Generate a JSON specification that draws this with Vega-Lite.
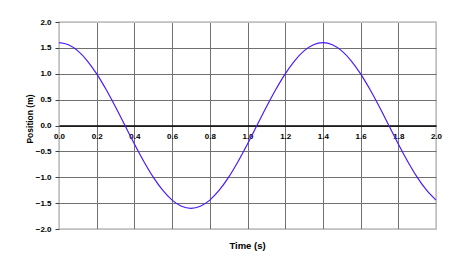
{
  "$schema": "https://vega.github.io/schema/vega-lite/v6.json",
  "width": 377,
  "height": 207,
  "autosize": {"type": "none"},
  "padding": {"left": 59, "top": 22, "right": 34, "bottom": 28},
  "background": "white",
  "title": {
    "text": "Time (s)",
    "orient": "bottom",
    "anchor": "middle",
    "frame": "group",
    "font": "Liberation Sans",
    "fontSize": 9.5,
    "fontWeight": "bold",
    "color": "black",
    "offset": 8
  },
  "config": {
    "view": {"stroke": "#c0c0c0", "strokeWidth": 1.5},
    "axis": {
      "labelFont": "Liberation Sans",
      "labelFontWeight": "bold",
      "labelFontSize": 8,
      "labelColor": "black",
      "titleFont": "Liberation Sans",
      "titleFontWeight": "bold",
      "titleColor": "black",
      "gridOpacity": 1,
      "gridWidth": 1,
      "labelOverlap": false,
      "labelFlush": false,
      "labelBound": false
    }
  },
  "data": {
    "values": [
      {"t": 0.00, "x": 1.6},
      {"t": 0.05, "x": 1.5599},
      {"t": 0.10, "x": 1.4416},
      {"t": 0.15, "x": 1.2509},
      {"t": 0.20, "x": 0.9976},
      {"t": 0.25, "x": 0.6942},
      {"t": 0.30, "x": 0.3560},
      {"t": 0.35, "x": 0.0},
      {"t": 0.40, "x": -0.3560},
      {"t": 0.45, "x": -0.6942},
      {"t": 0.50, "x": -0.9976},
      {"t": 0.55, "x": -1.2509},
      {"t": 0.60, "x": -1.4416},
      {"t": 0.65, "x": -1.5599},
      {"t": 0.70, "x": -1.6},
      {"t": 0.75, "x": -1.5599},
      {"t": 0.80, "x": -1.4416},
      {"t": 0.85, "x": -1.2509},
      {"t": 0.90, "x": -0.9976},
      {"t": 0.95, "x": -0.6942},
      {"t": 1.00, "x": -0.3560},
      {"t": 1.05, "x": 0.0},
      {"t": 1.10, "x": 0.3560},
      {"t": 1.15, "x": 0.6942},
      {"t": 1.20, "x": 0.9976},
      {"t": 1.25, "x": 1.2509},
      {"t": 1.30, "x": 1.4416},
      {"t": 1.35, "x": 1.5599},
      {"t": 1.40, "x": 1.6},
      {"t": 1.45, "x": 1.5599},
      {"t": 1.50, "x": 1.4416},
      {"t": 1.55, "x": 1.2509},
      {"t": 1.60, "x": 0.9976},
      {"t": 1.65, "x": 0.6942},
      {"t": 1.70, "x": 0.3560},
      {"t": 1.75, "x": 0.0},
      {"t": 1.80, "x": -0.3560},
      {"t": 1.85, "x": -0.6942},
      {"t": 1.90, "x": -0.9976},
      {"t": 1.95, "x": -1.2509},
      {"t": 2.00, "x": -1.4416}
    ]
  },
  "mark": {"type": "line", "color": "#4a1aff", "strokeWidth": 1.2, "interpolate": "monotone", "clip": true},
  "encoding": {
    "x": {
      "field": "t",
      "type": "quantitative",
      "scale": {"domain": [0, 2], "nice": false, "zero": false},
      "axis": {
        "orient": "bottom",
        "offset": -103.5,
        "values": [0, 0.2, 0.4, 0.6, 0.8, 1.0, 1.2, 1.4, 1.6, 1.8, 2.0],
        "format": ".1f",
        "title": null,
        "grid": true,
        "gridColor": {"condition": {"test": "datum.value == 0 || datum.value == 2", "value": "#c0c0c0"}, "value": "#707070"},
        "ticks": false,
        "domain": true,
        "domainColor": "black",
        "domainWidth": 1.5,
        "labelPadding": 7,
        "labelAlign": "center"
      }
    },
    "y": {
      "field": "x",
      "type": "quantitative",
      "scale": {"domain": [-2, 2], "nice": false, "zero": false},
      "axis": {
        "values": [-2, -1.5, -1, -0.5, 0, 0.5, 1, 1.5, 2],
        "format": ".1f",
        "title": "Position (m)",
        "titleFontSize": 8.5,
        "titleAngle": -90,
        "titleBaseline": "bottom",
        "titleAlign": "center",
        "titleX": -24.5,
        "titleY": 96.5,
        "grid": true,
        "gridColor": {"condition": {"test": "abs(datum.value) == 2", "value": "#c0c0c0"}, "value": "#707070"},
        "ticks": true,
        "tickSize": 4,
        "tickColor": "#404040",
        "domain": false,
        "labelPadding": 4,
        "labelBaseline": "middle"
      }
    }
  }
}
